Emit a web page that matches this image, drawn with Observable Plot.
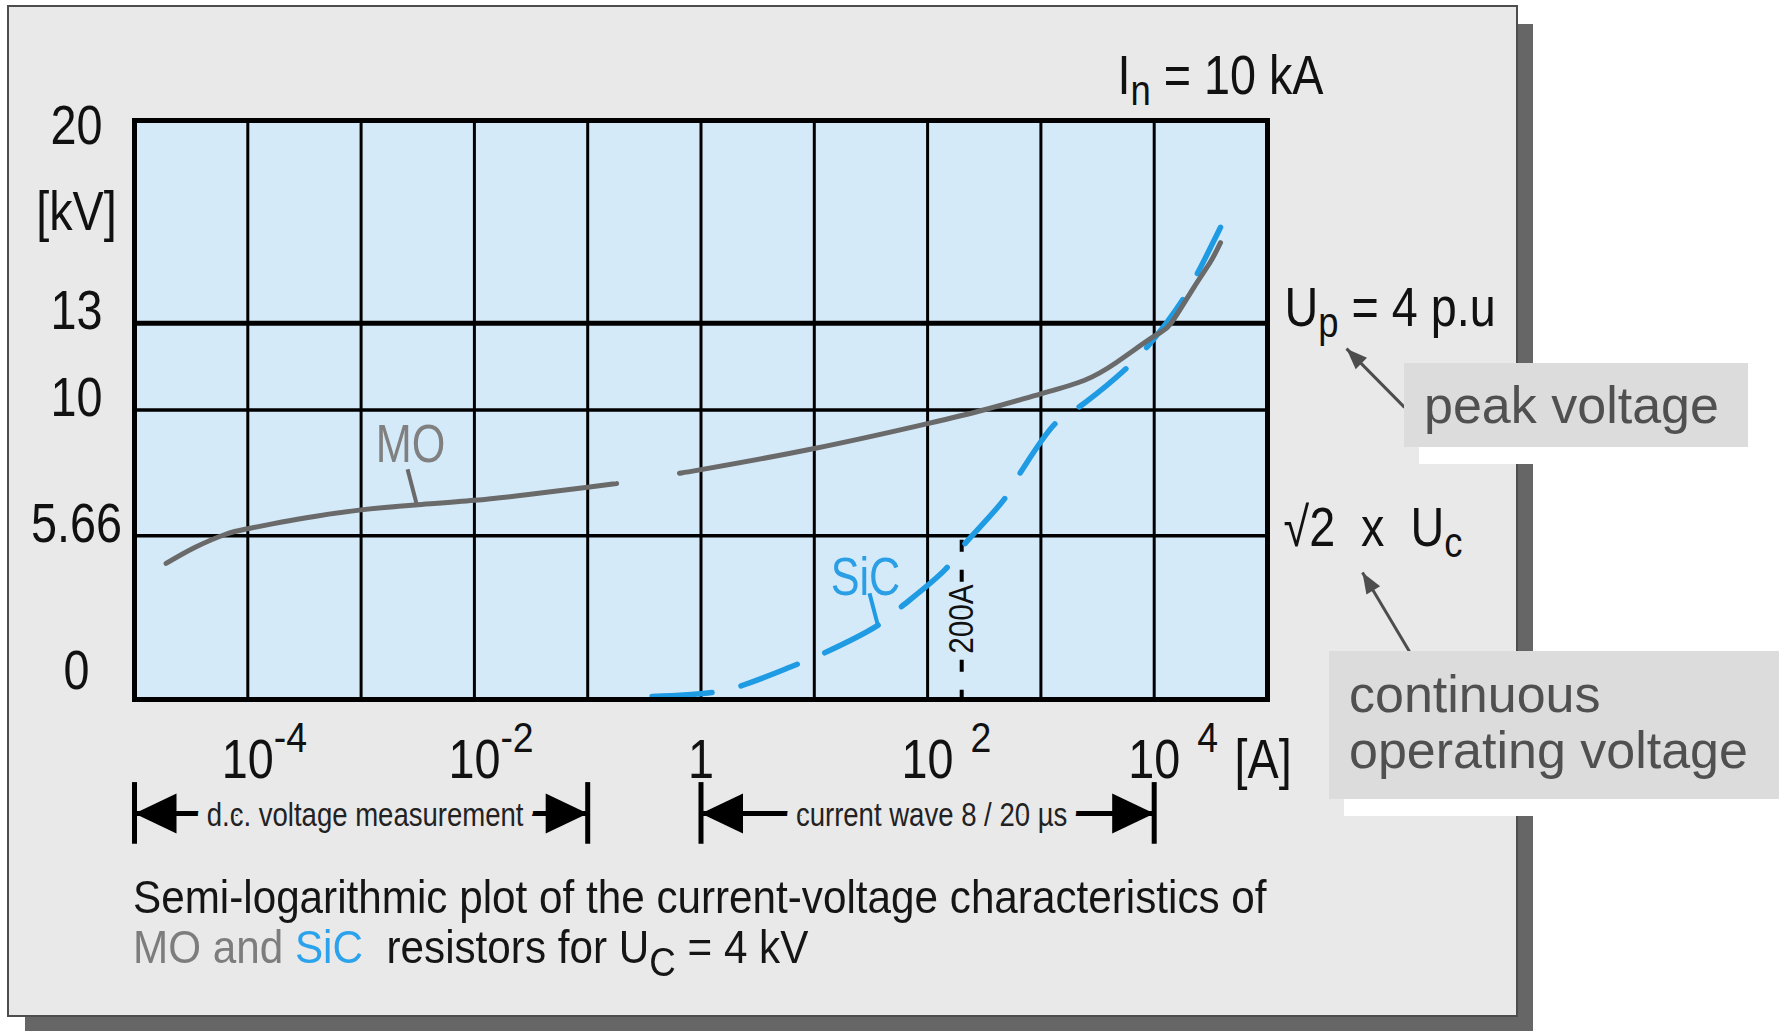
<!DOCTYPE html>
<html>
<head>
<meta charset="utf-8">
<script src="https://cdn.jsdelivr.net/npm/d3@7"></script>
<script src="https://cdn.jsdelivr.net/npm/@observablehq/plot@0.6"></script>
<style>
  html, body { margin: 0; padding: 0; background: #ffffff; width: 1779px; height: 1031px; overflow: hidden; }
  #stage { position: relative; width: 1779px; height: 1031px; }
  .abs { position: absolute; }
  .narrow { font-family: "Liberation Sans Narrow", "Arial Narrow", "Liberation Sans", Arial, sans-serif; }
  #shadow { left: 25px; top: 24px; width: 1508px; height: 1010px; background: #666666; }
  #panel { left: 7px; top: 5px; width: 1507px; height: 1008px; background: #e9e9e9; border: 2px solid #4d4d4d; }
  #chart { left: 0; top: 0; }
  #chart svg text { white-space: pre; }
  .whitebox { background: #ffffff; }
  .callout { background: #dcdcdc; color: #505050; font-family: "Liberation Sans", Arial, sans-serif; font-size: 52px; box-sizing: border-box; white-space: nowrap; }
  #caption { left: 133px; top: 872px; font-size: 46px; line-height: 50px; color: #151515; white-space: pre; transform: scaleX(0.918); transform-origin: 0 0; }
</style>
</head>
<body>
<div id="stage">
  <div id="shadow" class="abs"></div>
  <div id="panel" class="abs"></div>
  <div id="chart" class="abs"></div>
  <div class="abs whitebox" style="left:1419px;top:378px;width:344px;height:86px"></div>
  <div class="abs callout" style="left:1404px;top:363px;width:344px;height:84px;line-height:84px;padding-left:20px">peak voltage</div>
  <div class="abs whitebox" style="left:1344px;top:666px;width:450px;height:150px"></div>
  <div class="abs callout" style="left:1329px;top:651px;width:460px;height:148px;line-height:56px;padding:15px 0 0 20px">continuous<br>operating voltage</div>
  <div id="caption" class="abs narrow">Semi-logarithmic plot of the current-voltage characteristics of
<span style="color:#7d7d7d">MO and </span><span style="color:#2aa2ec">SiC</span>  resistors for U<span style="font-size:40px;position:relative;top:13px">C</span> = 4 kV</div>
</div>
<script>
// ---------------- data ----------------
// decade gridlines of the current axis [A]
const decades = [1e-4, 1e-3, 1e-2, 1e-1, 1, 1e1, 1e2, 1e3, 1e4];
// voltage gridlines [kV]
const voltageGrid = [5.66, 10, 13];
// x tick labels
const xTickValues = [1e-4, 1e-2, 1, 1e2, 1e4];
const xTickBase = ["10", "10", "1", "10", "10"];
const xTickExp = ["-4", "-2", "", "2", "4"];
// y tick labels
const yTickValues = [0, 5.66, 10, 13, 20];
const yTickLabels = ["0", "5.66", "10", "13", "20"];

// MO characteristic: d.c. part and impulse part (current in A, voltage in kV)
const moLowCurrent = [1.9e-5, 3.4e-5, 6.3e-5, 1e-4, 2e-4, 4e-4, 1e-3, 3e-3, 1e-2, 3e-2, 1e-1, 0.18];
const moLowVoltage = [4.70, 5.25, 5.70, 5.90, 6.13, 6.33, 6.55, 6.72, 6.88, 7.08, 7.33, 7.46];
const moHighCurrent = [0.65, 1, 10, 100, 311, 1000, 2400, 4710, 1e4, 14090, 22340, 31400, 38500];
const moHighVoltage = [7.82, 7.94, 8.67, 9.53, 10.0, 10.56, 11.02, 11.66, 12.55, 13.0, 14.23, 15.12, 15.78];

// SiC characteristic
const sicCurrent = [0.37, 1.2, 2.2, 6.8, 12, 36, 56, 144, 200, 477, 660, 1370, 2430, 5800, 8900, 18000, 24600, 38500];
const sicVoltage = [0.10, 0.23, 0.46, 1.19, 1.59, 2.55, 3.14, 4.50, 5.25, 6.93, 7.84, 9.57, 10.24, 11.47, 12.23, 13.83, 14.79, 16.31];

// 200 A marker
const markerCurrent = [200];
const markerTop = [5.5];
const markerLabel = ["200A"];
const markerLabelVoltage = [2.78];

// curve labels with leader lines
const curveLabels = ["MO", "SiC"];
const curveLabelCurrent = [2.73e-3, 28.3];
const curveLabelVoltage = [8.2, 3.61];
const leaderFromCurrent = [2.57e-3, 30.7];
const leaderFromVoltage = [7.95, 3.67];
const leaderToCurrent = [3.09e-3, 36.1];
const leaderToVoltage = [6.75, 2.62];

// measurement ranges below the axis
const rangeStart = [1e-5, 1];
const rangeEnd = [1e-1, 1e4];
const rangeLabels = ["d.c. voltage measurement", "current wave 8 / 20 \u00b5s"];
const rangeLevel = [-3.94];       // kV-level of the dimension arrows
const rangeBarTop = [-2.87];
const rangeBarBottom = [-5.0];

// right-hand annotations
const topRightLabel = ["I_{n} = 10 kA"];
const rightLabels = ["U_{p} = 4 p.u", "\u221a2  x  U_{c}"];
const rightLabelVoltage = [13, 5.66];

// callout arrows (from the callout boxes to the labels)
const calloutFromCurrent = [1.62e6, 1.79e6];
const calloutFromVoltage = [10.09, 1.66];
const calloutToCurrent = [4.98e5, 6.89e5];
const calloutToVoltage = [12.12, 4.39];

// ---------------- tables ----------------
const moLow = moLowCurrent.map((I, i) => ({I, U: moLowVoltage[i]}));
const moHigh = moHighCurrent.map((I, i) => ({I, U: moHighVoltage[i]}));
const sic = sicCurrent.map((I, i) => ({I, U: sicVoltage[i]}));
const labels = curveLabels.map((t, i) => ({t, I: curveLabelCurrent[i], U: curveLabelVoltage[i]}));
const leaders = curveLabels.map((t, i) => ({x1: leaderFromCurrent[i], y1: leaderFromVoltage[i], x2: leaderToCurrent[i], y2: leaderToVoltage[i]}));
const ranges = rangeLabels.map((t, i) => ({t, a: rangeStart[i], b: rangeEnd[i], mid: Math.sqrt(rangeStart[i] * rangeEnd[i])}));
const xTicks = xTickValues.map((v, i) => ({v, base: xTickBase[i], exp: xTickExp[i]}));
const yTicks = yTickValues.map((v, i) => ({v, t: yTickLabels[i]}));
const callouts = calloutFromCurrent.map((x1, i) => ({x1, y1: calloutFromVoltage[i], x2: calloutToCurrent[i], y2: calloutToVoltage[i]}));
const rightAnn = rightLabels.map((t, i) => ({t, U: rightLabelVoltage[i]}));

// ---------------- styles ----------------
const NARROW = '"Liberation Sans Narrow", "Arial Narrow", "Liberation Sans", Arial, sans-serif';
const BG = "#d5eaf9";
const PANEL = "#e9e9e9";
const MO_COLOR = "#6a6a6a";
const SIC_COLOR = "#1f9be4";
const bigTip = {draw(ctx) { ctx.moveTo(0, 0); ctx.lineTo(42, -20); ctx.lineTo(42, 20); ctx.closePath(); }};
const smallTip = {draw(ctx) { ctx.moveTo(0, 0); ctx.lineTo(21, -8); ctx.lineTo(21, 8); ctx.closePath(); }};

const plot = Plot.plot({
  width: 1779,
  height: 1031,
  marginLeft: 134,
  marginRight: 512,
  marginTop: 120,
  marginBottom: 332,
  style: {background: "transparent", fontFamily: NARROW, overflow: "visible", color: "#111"},
  x: {type: "log", domain: [1e-5, 1e5], axis: null},
  y: {type: "linear", domain: [0, 20], axis: null},
  marks: [
    Plot.frame({fill: BG, stroke: null}),
    Plot.ruleX(decades, {stroke: "#000", strokeWidth: 3}),
    Plot.ruleY(voltageGrid.filter(v => v !== 13), {stroke: "#000", strokeWidth: 3.5}),
    Plot.ruleY(voltageGrid.filter(v => v === 13), {stroke: "#000", strokeWidth: 5}),
    // 200 A marker
    Plot.ruleX(markerCurrent, {x: d => d, y1: (d, i) => markerTop[i], y2: 0, stroke: "#000", strokeWidth: 4, strokeDasharray: "12,18"}),
    Plot.text(markerCurrent, {x: d => d, y: (d, i) => markerLabelVoltage[i], text: (d, i) => markerLabel[i], rotate: -90,
      fontSize: 35, fill: "#111", stroke: BG, strokeWidth: 9, textAnchor: "middle", lineAnchor: "middle"}),
    // curves
    Plot.line(sic, {x: "I", y: "U", stroke: SIC_COLOR, strokeWidth: 5.5, strokeDasharray: "60,30", curve: "catmull-rom"}),
    Plot.line(moLow, {x: "I", y: "U", stroke: MO_COLOR, strokeWidth: 5, curve: "natural"}),
    Plot.line(moHigh, {x: "I", y: "U", stroke: MO_COLOR, strokeWidth: 5, curve: "natural"}),
    // curve labels
    Plot.link(leaders, {x1: "x1", y1: "y1", x2: "x2", y2: "y2", stroke: (d, i) => i === 0 ? MO_COLOR : SIC_COLOR, strokeWidth: 4}),
    Plot.text(labels, {x: "I", y: "U", text: "t", fill: (d, i) => i === 0 ? "#808080" : "#2a9fe6", fontSize: 54, lineAnchor: "bottom", textAnchor: "middle"}),
    Plot.frame({stroke: "#000", strokeWidth: 5}),
    // y tick labels
    Plot.text(yTicks.filter(d => d.v > 0 && d.v < 20), {y: "v", text: "t", frameAnchor: "left", dx: -58, dy: -11.5, textAnchor: "middle", lineAnchor: "middle", fontSize: 55}),
    Plot.text(yTicks.filter(d => d.v === 20), {y: "v", text: "t", frameAnchor: "left", dx: -58, dy: 6, textAnchor: "middle", lineAnchor: "middle", fontSize: 55}),
    Plot.text(yTicks.filter(d => d.v === 0), {y: "v", text: "t", frameAnchor: "left", dx: -58, dy: -28, textAnchor: "middle", lineAnchor: "middle", fontSize: 55}),
    Plot.text(["[kV]"], {text: d => d, frameAnchor: "top-left", dx: -58, dy: 92, textAnchor: "middle", lineAnchor: "middle", fontSize: 55}),
    // x tick labels
    Plot.text(xTicks, {x: "v", text: "base", frameAnchor: "bottom", dy: 78, textAnchor: "middle", lineAnchor: "bottom", fontSize: 55}),
    Plot.text(xTicks.filter(d => d.exp.startsWith("-")), {x: "v", text: "exp", frameAnchor: "bottom", dx: 26, dy: 52, textAnchor: "start", lineAnchor: "bottom", fontSize: 43}),
    Plot.text(xTicks.filter(d => d.exp && !d.exp.startsWith("-")), {x: "v", text: "exp", frameAnchor: "bottom", dx: 43, dy: 52, textAnchor: "start", lineAnchor: "bottom", fontSize: 43}),
    Plot.text(["[A]"], {text: d => d, frameAnchor: "bottom-right", dx: -33, dy: 78, textAnchor: "start", lineAnchor: "bottom", fontSize: 55}),
    // right-hand labels
    Plot.text(topRightLabel, {text: d => d, frameAnchor: "top-right", dx: 56, dy: -27, textAnchor: "end", lineAnchor: "bottom", fontSize: 55}),
    Plot.text(rightAnn.filter(d => d.U === 13), {y: "U", text: "t", frameAnchor: "right", dx: 17, dy: 3, textAnchor: "start", lineAnchor: "bottom", fontSize: 55}),
    Plot.text(rightAnn.filter(d => d.U !== 13), {y: "U", text: "t", frameAnchor: "right", dx: 16, dy: 10, textAnchor: "start", lineAnchor: "bottom", fontSize: 55}),
    // dimension arrows below the axis
    Plot.ruleX([...rangeStart, ...rangeEnd], {x: d => d, y1: rangeBarTop[0], y2: rangeBarBottom[0], stroke: "#000", strokeWidth: 5}),
    Plot.link(ranges, {x1: "a", x2: "b", y1: rangeLevel[0], y2: rangeLevel[0], stroke: "#000", strokeWidth: 5}),
    Plot.dot(ranges, {x: "a", y: rangeLevel[0], symbol: bigTip, fill: "#000", stroke: null}),
    Plot.dot(ranges, {x: "b", y: rangeLevel[0], symbol: bigTip, fill: "#000", stroke: null, rotate: 180}),
    Plot.text(ranges, {x: "mid", y: rangeLevel[0], text: "t", dx: 4, dy: 12, lineAnchor: "bottom", textAnchor: "middle", fontSize: 33, fill: "#222", stroke: PANEL, strokeWidth: 24}),
    // callout arrows
    Plot.link(callouts, {x1: "x1", y1: "y1", x2: "x2", y2: "y2", stroke: "#4d4d4d", strokeWidth: 3}),
    Plot.dot(callouts.slice(0, 1), {x: "x2", y: "y2", symbol: smallTip, fill: "#4d4d4d", stroke: null, rotate: 45}),
    Plot.dot(callouts.slice(1), {x: "x2", y: "y2", symbol: smallTip, fill: "#4d4d4d", stroke: null, rotate: 59})
  ]
});

document.getElementById("chart").appendChild(plot);

// subscripts: turn "X_{s}" into tspans
function richText(svg) {
  d3.select(svg).selectAll("text").each(function () {
    const s = this.textContent;
    if (!/_\{/.test(s)) return;
    const fs = parseFloat(getComputedStyle(this).fontSize) || 55;
    const parts = s.split(/(_\{[^}]*\})/).filter(p => p);
    this.textContent = "";
    let shifted = false;
    for (const p of parts) {
      const m = p.match(/^_\{([^}]*)\}$/);
      const ts = document.createElementNS("http://www.w3.org/2000/svg", "tspan");
      if (m) {
        ts.textContent = m[1];
        ts.setAttribute("font-size", (fs * 0.78) + "px");
        ts.setAttribute("dy", (fs * 0.2) + "px");
        shifted = true;
      } else {
        ts.textContent = p;
        if (shifted) { ts.setAttribute("dy", (-fs * 0.2) + "px"); shifted = false; }
      }
      this.appendChild(ts);
    }
  });
}
// condensed lettering: squeeze glyphs horizontally around each text's anchor
const squeeze = {55: 0.85, 54: 0.8, 43: 0.87, 35: 0.85, 33: 0.835};
function condense(svg) {
  d3.select(svg).selectAll("text").each(function () {
    const fs = Math.round(parseFloat(getComputedStyle(this).fontSize));
    const k = squeeze[fs] ?? 0.85;
    this.setAttribute("transform", (this.getAttribute("transform") || "") + ` scale(${k},1)`);
  });
}
richText(plot);
condense(plot);
</script>
</body>
</html>
